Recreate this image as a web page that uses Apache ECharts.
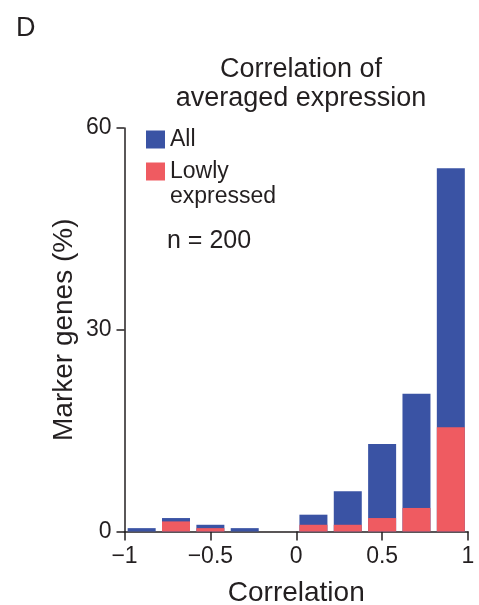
<!DOCTYPE html>
<html><head><meta charset="utf-8">
<script src="https://cdn.jsdelivr.net/npm/echarts@6/dist/echarts.min.js"></script>
<style>html,body{margin:0;padding:0;background:#fff}#c{width:479px;height:605px}</style>
</head><body><div id="c"></div>
<script>
const binCenters = [-0.9, -0.7, -0.5, -0.3, -0.1, 0.1, 0.3, 0.5, 0.7, 0.9];
const allValues = [0.5, 2, 1, 0.5, 0, 2.5, 6, 13, 20.5, 54];
const lowValues = [0, 1.5, 0.5, 0, 0, 1, 1, 2, 3.5, 15.5];
const xTicks = [-1, -0.5, 0, 0.5, 1];
const yTicks = [0, 30, 60];

const FONT = 'Liberation Sans';
const TXT = '#231f20';
const BLUE = '#3a53a4';
const RED = '#ef5b61';

const chart = echarts.init(document.getElementById('c'), null, {renderer: 'canvas'});
chart.setOption({
  animation: false,
  textStyle: {fontFamily: FONT, color: TXT},
  title: [
    {text: 'D', left: 11, top: 10, textStyle: {fontFamily: FONT, fontSize: 27, fontWeight: 'normal', color: TXT}},
    {text: 'Correlation of\naveraged expression', left: 296, textAlign: 'center', top: 50,
     textStyle: {fontFamily: FONT, fontSize: 27, fontWeight: 'normal', color: TXT, lineHeight: 29}}
  ],
  legend: {
    orient: 'vertical', left: 141, top: 122, itemWidth: 19, itemHeight: 18, itemGap: -18,
    icon: 'rect',
    textStyle: {fontFamily: FONT, fontSize: 23, color: TXT, lineHeight: 25},
    formatter: n => n === 'All' ? n : ' \nLowly\nexpressed',
    data: [{name: 'All'}, {name: 'Lowly expressed'}]
  },
  graphic: [
    {type: 'text', left: 167, top: 229, style: {text: 'n = 200', font: '25px "Liberation Sans"', fill: TXT}}
  ],
  grid: {left: 124.5, right: 11, top: 128, bottom: 73.5, outerBoundsMode: 'none', containLabel: false},
  xAxis: {
    type: 'value', min: -1, max: 1, interval: 0.5,
    axisLine: {show: true, onZero: false, lineStyle: {color: TXT, width: 1.5}},
    axisTick: {show: true, length: 9, lineStyle: {color: TXT, width: 1.5}},
    splitLine: {show: false},
    axisLabel: {fontFamily: FONT, fontSize: 23, color: TXT, margin: 14,
      formatter: v => xTicks.includes(v) ? String(v).replace('-', '\u2212') : ''},
    name: 'Correlation', nameLocation: 'middle', nameGap: 48,
    nameTextStyle: {fontFamily: FONT, fontSize: 28, color: TXT}
  },
  yAxis: {
    type: 'value', min: 0, max: 60, interval: 30,
    axisLine: {show: true, onZero: false, lineStyle: {color: TXT, width: 1.5}},
    axisTick: {show: true, length: 8, lineStyle: {color: TXT, width: 1.5}},
    splitLine: {show: false},
    axisLabel: {fontFamily: FONT, fontSize: 23, color: TXT, margin: 13,
      formatter: v => yTicks.includes(v) ? String(v) : ''},
    name: 'Marker genes (%)', nameLocation: 'middle', nameGap: 46, nameMoveOverlap: false,
    nameTextStyle: {fontFamily: FONT, fontSize: 28, color: TXT}
  },
  series: [
    {name: 'All', type: 'bar', barWidth: 28, itemStyle: {color: BLUE},
     data: binCenters.map((c, i) => [c, allValues[i]])},
    {name: 'Lowly expressed', type: 'bar', barWidth: 28, barGap: '-100%', itemStyle: {color: RED},
     data: binCenters.map((c, i) => [c, lowValues[i]])}
  ]
});
</script></body></html>
